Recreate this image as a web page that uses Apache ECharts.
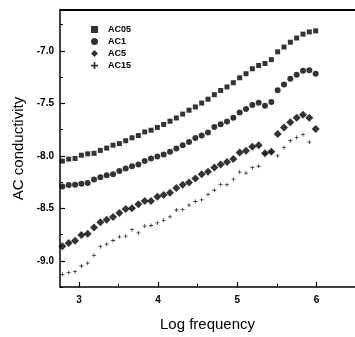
<!DOCTYPE html>
<html>
<head>
<meta charset="utf-8">
<script src="https://cdn.jsdelivr.net/npm/echarts@6/dist/echarts.min.js"></script>
<style>
html,body{margin:0;padding:0;background:#fff;}
#c{width:355px;height:337px;}
</style>
</head>
<body>
<div id="c"></div>
<script>
// Log frequency values (shared by all series)
var logFreq = [2.79,2.87,2.95,3.03,3.11,3.19,3.27,3.35,3.43,3.51,3.59,3.67,3.75,3.83,3.91,3.99,4.07,4.15,4.23,4.31,4.39,4.47,4.55,4.63,4.71,4.79,4.87,4.95,5.03,5.11,5.19,5.27,5.35,5.43,5.51,5.59,5.67,5.75,5.83,5.91,5.99];

var seriesNames = ['AC05','AC1','AC5','AC15'];

var ac05 = [-8.050,-8.031,-8.025,-7.994,-7.981,-7.976,-7.948,-7.926,-7.898,-7.883,-7.856,-7.828,-7.806,-7.772,-7.756,-7.729,-7.701,-7.670,-7.639,-7.602,-7.565,-7.534,-7.497,-7.460,-7.417,-7.377,-7.343,-7.303,-7.256,-7.217,-7.170,-7.139,-7.120,-7.083,-7.009,-6.963,-6.917,-6.877,-6.840,-6.819,-6.809];

var ac1 = [-8.291,-8.278,-8.275,-8.266,-8.259,-8.226,-8.204,-8.185,-8.176,-8.145,-8.120,-8.099,-8.083,-8.050,-8.025,-8.006,-7.988,-7.960,-7.930,-7.898,-7.868,-7.831,-7.807,-7.778,-7.726,-7.698,-7.673,-7.636,-7.587,-7.553,-7.516,-7.494,-7.522,-7.488,-7.374,-7.319,-7.266,-7.226,-7.189,-7.185,-7.217];

var ac5 = [-8.861,-8.831,-8.809,-8.754,-8.743,-8.684,-8.634,-8.608,-8.583,-8.545,-8.506,-8.499,-8.462,-8.430,-8.430,-8.391,-8.374,-8.352,-8.306,-8.275,-8.254,-8.217,-8.176,-8.152,-8.111,-8.083,-8.059,-8.031,-7.967,-7.951,-7.914,-7.898,-7.976,-7.960,-7.791,-7.729,-7.680,-7.636,-7.608,-7.636,-7.743];

var ac15 = [-9.129,-9.113,-9.104,-9.050,-9.023,-8.948,-8.866,-8.842,-8.807,-8.772,-8.766,-8.704,-8.735,-8.669,-8.664,-8.639,-8.615,-8.581,-8.516,-8.513,-8.469,-8.435,-8.419,-8.368,-8.328,-8.275,-8.275,-8.222,-8.155,-8.164,-8.113,-8.099,-7.979,-7.965,-8.000,-7.920,-7.856,-7.824,-7.796,-7.869,null];

var xLabelValues = [3,4,5,6];
var xMinorTicks = [3.5,4.5,5.5];
var yLabelValues = [-9.0,-8.5,-8.0,-7.5,-7.0];
var yMinorTicks = [-9.25,-8.75,-8.25,-7.75,-7.25,-6.75];

function pairs(ys){ return logFreq.map(function(x,i){ return [x, ys[i]]; }); }

var plusPath = 'path://M2,0H3V2H5V3H3V5H2V3H0V2H2Z';
var plusLegend = 'path://M3.5,2H4.5V3.5H6V4.5H4.5V6H3.5V4.5H2V3.5H3.5Z';

var chart = echarts.init(document.getElementById('c'), null, {renderer:'canvas'});
var font = 'Liberation Sans, Arial, sans-serif';
var xMin = 2.76, xMax = 6.487, yMin = -9.25, yMax = -6.61;

var option = {
  backgroundColor:'#fff',
  animation:false,
  grid:{left:60, top:10, width:300, bottom:42, show:false},
  legend:{
    orient:'vertical', left:86, top:20, itemWidth:7, itemHeight:7, itemGap:3,
    textStyle:{fontFamily:font, fontSize:9, fontWeight:'bold', color:'#000', padding:[0,0,0,5]},
    data:[
      {name:'AC05', icon:'rect'},
      {name:'AC1', icon:'circle'},
      {name:'AC5', icon:'diamond'},
      {name:'AC15', icon:plusLegend}
    ]
  },
  xAxis:[
    {type:'value', min:xMin, max:xMax, position:'bottom',
     name:'Log frequency', nameLocation:'middle', nameGap:30,
     nameTextStyle:{fontFamily:font, fontSize:15, color:'#000'},
     axisLine:{show:true, lineStyle:{color:'#000', width:1.5}},
     axisTick:{show:true, inside:true, length:5, customValues:xLabelValues, lineStyle:{color:'#000', width:1.2}},
     axisLabel:{show:true, customValues:xLabelValues, margin:8, fontFamily:font, fontSize:10, fontWeight:'bold', color:'#000'},
     splitLine:{show:false}},
    {type:'value', min:xMin, max:xMax, position:'bottom', gridIndex:0,
     axisLine:{show:false},
     axisTick:{show:true, inside:true, length:3, customValues:xMinorTicks, lineStyle:{color:'#000', width:1}},
     axisLabel:{show:false}, splitLine:{show:false}},
    {type:'value', min:xMin, max:xMax, position:'top', gridIndex:0,
     axisLine:{show:true, lineStyle:{color:'#000', width:2}},
     axisTick:{show:false}, axisLabel:{show:false}, splitLine:{show:false}}
  ],
  yAxis:[
    {type:'value', min:yMin, max:yMax, position:'left',
     name:'AC conductivity', nameLocation:'middle', nameGap:32, nameRotate:90,
     nameTextStyle:{fontFamily:font, fontSize:15, color:'#000'},
     axisLine:{show:true, lineStyle:{color:'#000', width:1.5}},
     axisTick:{show:true, inside:true, length:5, customValues:yLabelValues, lineStyle:{color:'#000', width:1.2}},
     axisLabel:{show:true, customValues:yLabelValues, margin:6, fontFamily:font, fontSize:10, fontWeight:'bold', color:'#000',
       formatter:function(v){ return v.toFixed(1); }},
     splitLine:{show:false}},
    {type:'value', min:yMin, max:yMax, position:'left', gridIndex:0,
     axisLine:{show:false},
     axisTick:{show:true, inside:true, length:3, customValues:yMinorTicks, lineStyle:{color:'#000', width:1}},
     axisLabel:{show:false}, splitLine:{show:false}}
  ],
  series:[
    {name:'AC05', type:'scatter', symbol:'rect', symbolSize:5, data:pairs(ac05), itemStyle:{color:'#000'}, z:3},
    {name:'AC1', type:'scatter', symbol:'circle', symbolSize:6, data:pairs(ac1), itemStyle:{color:'#000'}, z:3},
    {name:'AC15', type:'scatter', symbol:plusPath, symbolSize:4, data:pairs(ac15), itemStyle:{color:'#000'}, z:2},
    {name:'AC5', type:'scatter', symbol:'diamond', symbolSize:8, data:pairs(ac5), itemStyle:{color:'#000'}, z:4}
  ]
};
chart.setOption(option);
</script>
</body>
</html>
